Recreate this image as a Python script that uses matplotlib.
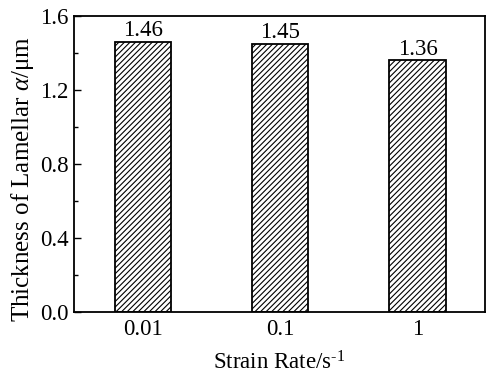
import matplotlib
matplotlib.use("Agg")
import matplotlib.pyplot as plt
from matplotlib.ticker import MultipleLocator, FormatStrFormatter

categories = ["0.01", "0.1", "1"]
values = [1.46, 1.45, 1.36]
value_labels = ["1.46", "1.45", "1.36"]

plt.rcParams['font.family'] = ['Liberation Serif', 'DejaVu Serif']
plt.rcParams['mathtext.fontset'] = 'custom'
plt.rcParams['mathtext.rm'] = 'Liberation Serif'
plt.rcParams['mathtext.it'] = 'Liberation Serif:italic'
plt.rcParams['hatch.linewidth'] = 0.8

FS = 16.5

fig = plt.figure(figsize=(4.86, 3.74), dpi=100)
ax = fig.add_axes([74/486, 1-312/374, (485-74)/486, (312-16)/374])

x = list(range(len(categories)))
bars = ax.bar(x, values, width=0.41, color='white', edgecolor='black',
              linewidth=1.3, hatch='//////')
for xi, v, lab in zip(x, values, value_labels):
    ax.text(xi, v + 0.003, lab, ha='center', va='bottom', fontsize=FS)

ax.set_xlim(-0.5, 2.49)
ax.set_ylim(0, 1.6)
ax.set_xticks(x)
ax.set_xticklabels(categories)
ax.yaxis.set_major_locator(MultipleLocator(0.4))
ax.yaxis.set_minor_locator(MultipleLocator(0.2))
ax.yaxis.set_major_formatter(FormatStrFormatter('%.1f'))
ax.tick_params(axis='y', which='major', direction='in', length=5, width=1, labelsize=FS, pad=4)
ax.tick_params(axis='y', which='minor', direction='in', length=3, width=1)
ax.tick_params(axis='x', which='both', length=0, labelsize=FS, pad=5)
for s in ax.spines.values():
    s.set_linewidth(1.3)

ax.set_ylabel(r'Thickness of Lamellar $\mathit{\alpha}$/μm', fontsize=18)
ax.yaxis.set_label_coords(-0.092, 0.45)
ax.set_xlabel(r'Strain Rate/s$^{\text{-1}}$', fontsize=FS, labelpad=8)

fig.savefig('out.png', dpi=100)
